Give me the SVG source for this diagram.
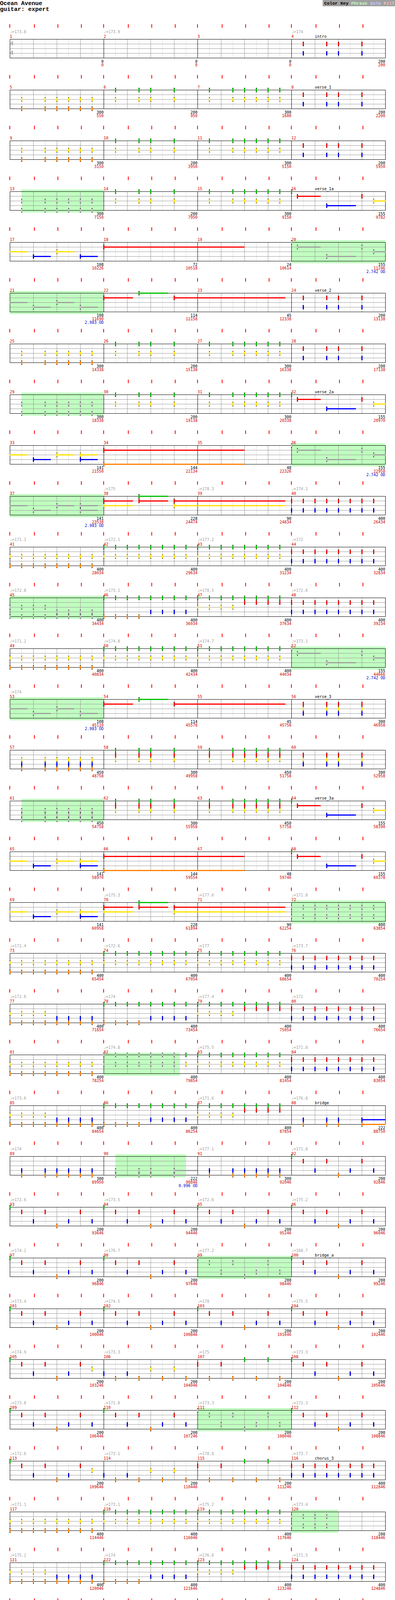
<svg xmlns="http://www.w3.org/2000/svg" width="1010" height="4795" viewBox="0 0 1010 4795">
<style>
.k{fill:#000}.cg{fill:#00c000}.cr{fill:#ff0000}.cy{fill:#ffe000}.cb{fill:#0000ff}.co{fill:#ff8000}.cs{fill:#a0a0a0}.cl{fill:#e8e8e8}.sp{fill:#c0ffc0}.tk{fill:#ff0000}
.t{font-family:"DejaVu Sans Mono","Liberation Mono",monospace;font-size:10px}
.tp{fill:#a0a0a0}.mn{fill:#cc0000}.lb{fill:#000}.sc{text-anchor:end;fill:#000}.cu{text-anchor:end;fill:#cc0000}.od{text-anchor:end;fill:#0000cc}
.ts{font-family:"DejaVu Sans Mono",monospace;font-weight:bold;font-size:14px;fill:#a0a0a0}
.hd{font-family:"Liberation Mono",monospace;font-size:15px;font-weight:bold;fill:#000}
.ck{font-family:"Liberation Mono",monospace;font-size:11.5px;font-weight:bold}
.ft{font-family:"Liberation Mono",monospace;font-size:11.6px;fill:#000}.wr{fill:#ff0000;font-weight:bold}.gr{fill:#808080}
.gl{stroke:#dddddd;stroke-width:1;fill:none}.gm{stroke:#999999;stroke-width:1;fill:none}.gk{stroke:#000;stroke-width:1;fill:none}
</style>
<defs>
<g id="grid4">
<path class="gl" d="M55.5 0V48M115.5 0V48M175.5 0V48M235.5 0V48M295.5 0V48M355.5 0V48M415.5 0V48M475.5 0V48M535.5 0V48M595.5 0V48M655.5 0V48M715.5 0V48M775.5 0V48M835.5 0V48M895.5 0V48M955.5 0V48"/>
<path class="gm" d="M25 12.5H985M25 24.5H985M25 36.5H985M85.5 0V48M145.5 0V48M205.5 0V48M325.5 0V48M385.5 0V48M445.5 0V48M565.5 0V48M625.5 0V48M685.5 0V48M805.5 0V48M865.5 0V48M925.5 0V48"/>
<path class="gk" d="M25 0.5H986M25 48.5H986M25.5 0V49M265.5 0V49M505.5 0V49M745.5 0V49M985.5 0V49"/>
</g>
<g id="grid3">
<path class="gl" d="M55.5 0V48M115.5 0V48M175.5 0V48M235.5 0V48M295.5 0V48M355.5 0V48M415.5 0V48M475.5 0V48M535.5 0V48M595.5 0V48M655.5 0V48M715.5 0V48"/>
<path class="gm" d="M25 12.5H745M25 24.5H745M25 36.5H745M85.5 0V48M145.5 0V48M205.5 0V48M325.5 0V48M385.5 0V48M445.5 0V48M565.5 0V48M625.5 0V48M685.5 0V48"/>
<path class="gk" d="M25 0.5H746M25 48.5H746M25.5 0V49M265.5 0V49M505.5 0V49M745.5 0V49"/>
</g>
<g id="ticks3" class="tk">
<rect x="24" y="-38" width="2" height="9"/><rect x="87" y="-38" width="2" height="9"/><rect x="147" y="-38" width="2" height="9"/><rect x="207" y="-38" width="2" height="9"/>
<rect x="264" y="-38" width="2" height="9"/><rect x="327" y="-38" width="2" height="9"/><rect x="387" y="-38" width="2" height="9"/><rect x="447" y="-38" width="2" height="9"/>
<rect x="504" y="-38" width="2" height="9"/><rect x="567" y="-38" width="2" height="9"/><rect x="627" y="-38" width="2" height="9"/><rect x="687" y="-38" width="2" height="9"/>
</g>
<g id="ticks4"><use href="#ticks3"/><g class="tk"><rect x="744" y="-38" width="2" height="9"/><rect x="807" y="-38" width="2" height="9"/><rect x="867" y="-38" width="2" height="9"/><rect x="927" y="-38" width="2" height="9"/></g></g>

<g id="G"><rect class="k" x="-1" y="-5" width="3" height="11"/><rect class="cg" x="-1" y="-4" width="3" height="9"/></g>
<g id="R"><rect class="k" x="-1" y="7" width="3" height="11"/><rect class="cr" x="-1" y="8" width="3" height="9"/></g>
<g id="Y"><rect class="k" x="-1" y="19" width="3" height="11"/><rect class="cy" x="-1" y="20" width="3" height="9"/></g>
<g id="B"><rect class="k" x="-1" y="31" width="3" height="11"/><rect class="cb" x="-1" y="32" width="3" height="9"/></g>
<g id="O"><rect class="k" x="-1" y="43" width="3" height="11"/><rect class="co" x="-1" y="44" width="3" height="9"/></g>
<g id="sG"><rect class="k" x="-1" y="-5" width="3" height="11"/><rect class="cs" x="-1" y="-4" width="3" height="9"/><rect class="cl" x="0" y="-3" width="1" height="7"/></g>
<g id="sR"><rect class="k" x="-1" y="7" width="3" height="11"/><rect class="cs" x="-1" y="8" width="3" height="9"/><rect class="cl" x="0" y="9" width="1" height="7"/></g>
<g id="sY"><rect class="k" x="-1" y="19" width="3" height="11"/><rect class="cs" x="-1" y="20" width="3" height="9"/><rect class="cl" x="0" y="21" width="1" height="7"/></g>
<g id="sB"><rect class="k" x="-1" y="31" width="3" height="11"/><rect class="cs" x="-1" y="32" width="3" height="9"/><rect class="cl" x="0" y="33" width="1" height="7"/></g>
<g id="sO"><rect class="k" x="-1" y="43" width="3" height="11"/><rect class="cs" x="-1" y="44" width="3" height="9"/><rect class="cl" x="0" y="45" width="1" height="7"/></g>

<g id="GY"><use href="#G"/><use href="#Y"/></g>
<g id="RB"><use href="#R"/><use href="#B"/></g>
<g id="YO"><use href="#Y"/><use href="#O"/></g>
<g id="BO"><use href="#B"/><use href="#O"/></g>
<g id="GO"><use href="#G"/><use href="#O"/></g>
<g id="GB"><use href="#G"/><use href="#B"/></g>
<g id="GR"><use href="#G"/><use href="#R"/></g>
<g id="RY"><use href="#R"/><use href="#Y"/></g>
<g id="YB"><use href="#Y"/><use href="#B"/></g>
<g id="GRY"><use href="#G"/><use href="#R"/><use href="#Y"/></g>
<g id="RYB"><use href="#R"/><use href="#Y"/><use href="#B"/></g>
<g id="YBO"><use href="#Y"/><use href="#B"/><use href="#O"/></g>
<g id="sGY"><use href="#sG"/><use href="#sY"/></g>
<g id="sRB"><use href="#sR"/><use href="#sB"/></g>
<g id="sYO"><use href="#sY"/><use href="#sO"/></g>
<g id="sBO"><use href="#sB"/><use href="#sO"/></g>
<g id="sYB"><use href="#sY"/><use href="#sB"/></g>
<g id="sYBO"><use href="#sY"/><use href="#sB"/><use href="#sO"/></g>

<g id="pA"><use href="#YO" x="30"/><use href="#YO" x="90"/><use href="#YO" x="120"/><use href="#YO" x="150"/><use href="#YO" x="180"/><use href="#YO" x="210"/></g>
<g id="pAs"><use href="#sYO" x="30"/><use href="#sYO" x="90"/><use href="#sYO" x="120"/><use href="#sYO" x="150"/><use href="#sYO" x="180"/><use href="#sYO" x="210"/></g>
<g id="pB"><use href="#GY" x="30"/><use href="#GY" x="90"/><use href="#GY" x="120"/><use href="#GY" x="180"/></g>
<g id="pC"><use href="#GY" x="30"/><use href="#GY" x="90"/><use href="#GY" x="120"/><use href="#GY" x="150"/><use href="#GY" x="180"/><use href="#GY" x="210"/></g>
<g id="pD"><use href="#RB" x="30"/><use href="#RB" x="90"/><use href="#RB" x="120"/><use href="#RB" x="180"/></g>
<g id="pH"><use href="#RB" x="0"/><use href="#RB" x="30"/><use href="#RB" x="60"/><use href="#RB" x="90"/><use href="#RB" x="120"/><use href="#RB" x="150"/><use href="#RB" x="180"/><use href="#RB" x="210"/></g>
<g id="pHs"><use href="#sRB" x="0"/><use href="#sRB" x="30"/><use href="#sRB" x="60"/><use href="#sRB" x="90"/><use href="#sRB" x="120"/><use href="#sRB" x="150"/><use href="#sRB" x="180"/><use href="#sRB" x="210"/></g>
<g id="pI"><use href="#YO" x="0"/><use href="#YO" x="30"/><use href="#YO" x="60"/><use href="#YO" x="90"/><use href="#YO" x="120"/><use href="#YO" x="150"/><use href="#YO" x="180"/><use href="#YO" x="210"/></g>
<g id="pJ"><use href="#GY" x="0"/><use href="#GY" x="30"/><use href="#GY" x="60"/><use href="#GY" x="90"/><use href="#GY" x="120"/><use href="#GY" x="150"/><use href="#GY" x="180"/><use href="#GY" x="210"/></g>
<g id="pK"><use href="#YO" x="0"/><use href="#YO" x="30"/><use href="#YO" x="60"/><use href="#YO" x="90"/><use href="#BO" x="120"/><use href="#BO" x="150"/><use href="#BO" x="180"/><use href="#BO" x="210"/></g>
<g id="pKs"><use href="#sYO" x="0"/><use href="#sYO" x="30"/><use href="#sYO" x="60"/><use href="#sYO" x="90"/><use href="#sBO" x="120"/><use href="#sBO" x="150"/><use href="#sBO" x="180"/><use href="#sBO" x="210"/></g>
<g id="pL"><use href="#GO" x="0"/><use href="#GO" x="30"/><use href="#GO" x="60"/><use href="#GO" x="90"/><use href="#GB" x="120"/><use href="#GB" x="150"/><use href="#GB" x="180"/><use href="#GB" x="210"/></g>
<g id="pM"><use href="#GY" x="0"/><use href="#GY" x="30"/><use href="#GY" x="60"/><use href="#GY" x="90"/><use href="#GR" x="120"/><use href="#GR" x="150"/><use href="#GR" x="180"/><use href="#GR" x="210"/></g>
<g id="pV3"><use href="#RYB" x="30"/><use href="#RYB" x="90"/><use href="#RYB" x="120"/><use href="#RYB" x="180"/></g>
<g id="pV4"><use href="#YBO" x="30"/><use href="#YBO" x="90"/><use href="#YBO" x="120"/><use href="#YBO" x="150"/><use href="#YBO" x="180"/><use href="#YBO" x="210"/></g>
<g id="pV4s"><use href="#sYBO" x="30"/><use href="#sYBO" x="90"/><use href="#sYBO" x="120"/><use href="#sYBO" x="150"/><use href="#sYBO" x="180"/><use href="#sYBO" x="210"/></g>
<g id="pV5"><use href="#GRY" x="30"/><use href="#GRY" x="90"/><use href="#GRY" x="120"/><use href="#GRY" x="180"/></g>
<g id="pV6"><use href="#GRY" x="30"/><use href="#GRY" x="90"/><use href="#GRY" x="120"/><use href="#GRY" x="150"/><use href="#GRY" x="180"/><use href="#GRY" x="210"/></g>
<g id="pBr6"><use href="#BO" x="30"/><use href="#BO" x="90"/><use href="#BO" x="120"/><use href="#BO" x="150"/><use href="#BO" x="180"/><use href="#BO" x="210"/></g>
<g id="pBr"><use href="#BO" x="30"/><use href="#BO" x="90"/><use href="#BO" x="120"/><rect class="cb" x="180" y="35" width="61" height="3"/><rect class="co" x="180" y="47" width="61" height="3"/><use href="#BO" x="180"/></g>
<g id="pBrs"><use href="#sBO" x="30"/><use href="#sBO" x="90"/><use href="#sBO" x="120"/><rect class="cs" x="180" y="35" width="60" height="3"/><rect class="cs" x="180" y="47" width="60" height="3"/><use href="#sBO" x="180"/></g>
<g id="pOut"><use href="#RB" x="30"/><use href="#RB" x="90"/><use href="#RB" x="120"/><rect class="cr" x="180" y="11" width="61" height="3"/><rect class="cb" x="180" y="35" width="61" height="3"/><use href="#RB" x="180"/></g>
<g id="pGY4"><use href="#GY" x="30"/><use href="#GY" x="90"/><use href="#GY" x="120"/><rect class="cg" x="180" y="-1" width="60" height="3"/><rect class="cy" x="180" y="23" width="60" height="3"/><use href="#GY" x="180"/></g>
<g id="pP"><use href="#G" x="0"/><use href="#R" x="30"/><use href="#B" x="60"/><use href="#R" x="90"/><use href="#O" x="120"/><use href="#B" x="150"/><use href="#R" x="180"/><use href="#B" x="210"/></g>
<g id="pPs"><use href="#sG" x="0"/><use href="#sR" x="30"/><use href="#sB" x="60"/><use href="#sR" x="90"/><use href="#sO" x="120"/><use href="#sB" x="150"/><use href="#sR" x="180"/><use href="#sB" x="210"/></g>
<g id="pQ"><use href="#G" x="0"/><use href="#R" x="30"/><use href="#B" x="60"/><use href="#R" x="90"/><use href="#O" x="120"/><use href="#B" x="150"/><use href="#R" x="180"/><use href="#Y" x="210"/></g>
<g id="pS"><use href="#B" x="0"/><use href="#O" x="30"/><use href="#B" x="60"/><use href="#O" x="90"/><use href="#Y" x="120"/><use href="#O" x="150"/><use href="#Y" x="180"/><use href="#O" x="210"/></g>
<g id="pT"><use href="#R" x="0"/><use href="#O" x="30"/><use href="#R" x="60"/><use href="#O" x="90"/><use href="#G" x="120"/><use href="#O" x="150"/><use href="#G" x="180"/><use href="#O" x="210"/></g>
<g id="pE"><use href="#G"/><rect class="cr" x="15" y="11" width="60" height="3"/><use href="#R" x="15"/><rect class="cb" x="90" y="35" width="75" height="3"/><use href="#B" x="90"/><use href="#R" x="180"/><rect class="cy" x="210" y="23" width="31" height="3"/><use href="#Y" x="210"/></g>
<g id="pEs"><use href="#sG"/><rect class="cs" x="15" y="11" width="60" height="3"/><use href="#sR" x="15"/><rect class="cs" x="90" y="35" width="75" height="3"/><use href="#sB" x="90"/><use href="#sR" x="180"/><rect class="cs" x="210" y="23" width="31" height="3"/><use href="#sY" x="210"/></g>
<g id="pF"><rect class="cy" x="0" y="23" width="45" height="3"/><rect class="cb" x="60" y="35" width="45" height="3"/><use href="#B" x="60"/><rect class="cy" x="120" y="23" width="45" height="3"/><use href="#Y" x="120"/><rect class="cb" x="180" y="35" width="45" height="3"/><use href="#B" x="180"/></g>
<g id="pFs"><rect class="cs" x="0" y="23" width="45" height="3"/><rect class="cs" x="60" y="35" width="45" height="3"/><use href="#sB" x="60"/><rect class="cs" x="120" y="23" width="45" height="3"/><use href="#sY" x="120"/><rect class="cs" x="180" y="35" width="45" height="3"/><use href="#sB" x="180"/></g>
<g id="pF2"><rect class="cy" x="0" y="23" width="45" height="3"/><rect class="cb" x="60" y="35" width="45" height="3"/><use href="#B" x="60"/><rect class="cy" x="120" y="23" width="45" height="3"/><use href="#Y" x="120"/><rect class="cy" x="180" y="23" width="45" height="3"/><rect class="cb" x="180" y="35" width="45" height="3"/><use href="#YB" x="180"/></g>
<g id="pF2s"><rect class="cs" x="0" y="23" width="45" height="3"/><rect class="cs" x="60" y="35" width="45" height="3"/><use href="#sB" x="60"/><rect class="cs" x="120" y="23" width="45" height="3"/><use href="#sY" x="120"/><rect class="cs" x="180" y="23" width="45" height="3"/><rect class="cs" x="180" y="35" width="45" height="3"/><use href="#sYB" x="180"/></g>
<g id="pX18"><rect class="cr" x="0" y="11" width="360" height="3"/><use href="#R"/></g>
<g id="pX22"><rect class="cr" x="0" y="11" width="75" height="3"/><use href="#R"/><rect class="cg" x="90" y="-1" width="75" height="3"/><use href="#G" x="90"/><rect class="cr" x="180" y="11" width="285" height="3"/><use href="#R" x="180"/></g>
<g id="pX34"><rect class="cr" x="0" y="11" width="360" height="3"/><rect class="co" x="0" y="47" width="360" height="3"/><use href="#R"/><use href="#O"/></g>
<g id="pX38"><rect class="cr" x="0" y="11" width="75" height="3"/><rect class="cy" x="0" y="23" width="75" height="3"/><use href="#RY"/><rect class="cg" x="90" y="-1" width="75" height="3"/><rect class="cr" x="90" y="11" width="75" height="3"/><use href="#GR" x="90"/><rect class="cr" x="180" y="11" width="285" height="3"/><rect class="cy" x="180" y="23" width="285" height="3"/><use href="#RY" x="180"/></g>
<g id="p82"><use href="#sGY" x="0"/><use href="#sGY" x="30"/><use href="#sGY" x="60"/><use href="#sGY" x="90"/><use href="#sGY" x="120"/><use href="#sGY" x="150"/><use href="#sGY" x="180"/><use href="#GY" x="210"/></g>
<g id="p120"><use href="#sRB" x="0"/><use href="#sRB" x="30"/><use href="#sRB" x="60"/><use href="#sRB" x="90"/></g>
</defs>

<rect width="1010" height="4795" fill="#fff"/>
<g id="header">
<text class="hd" x="0" y="13">Ocean Avenue</text>
<text class="hd" x="0" y="28">guitar: expert</text>
</g>
<g id="colorkey">
<rect x="825" y="0" width="185" height="16" fill="#a0a0a0"/>
<text class="ck" x="829" y="12"><tspan fill="#000">Color Key</tspan> <tspan fill="#c0ffc0">Phrase</tspan> <tspan fill="#c8c8ff">Solo</tspan> <tspan fill="#ffc0c0">Fill</tspan></text>
</g>

<g id="row1" transform="translate(0,100)">
<use href="#grid4"/><use href="#ticks4"/>
<text class="ts" x="26" y="16">4</text><text class="ts" x="26" y="40">4</text>
<g id="m1"><text class="t tp" x="25" y="-15">♩=173.8</text><text class="t mn" x="25" y="-3">1</text><text class="t sc" x="265" y="61">0</text><text class="t cu" x="265" y="70">0</text></g>
<g id="m2"><text class="t tp" x="265" y="-15">♩=173.9</text><text class="t mn" x="265" y="-3">2</text><text class="t sc" x="505" y="61">0</text><text class="t cu" x="505" y="70">0</text></g>
<g id="m3"><text class="t mn" x="505" y="-3">3</text><text class="t sc" x="745" y="61">0</text><text class="t cu" x="745" y="70">0</text></g>
<g id="m4"><text class="t tp" x="745" y="-15">♩=174</text><text class="t mn" x="745" y="-3">4</text><text class="t lb" x="805" y="-3">intro</text><text class="t sc" x="985" y="61">200</text><text class="t cu" x="985" y="70">200</text><use href="#pD" x="745"/></g>
</g>

<g id="row2" transform="translate(0,230)">
<use href="#grid4"/><use href="#ticks4"/>
<g id="m5"><text class="t mn" x="25" y="-3">5</text><text class="t sc" x="265" y="61">300</text><text class="t cu" x="265" y="70">550</text><use href="#pA" x="25"/></g>
<g id="m6"><text class="t mn" x="265" y="-3">6</text><text class="t sc" x="505" y="61">200</text><text class="t cu" x="505" y="70">950</text><use href="#pB" x="265"/></g>
<g id="m7"><text class="t mn" x="505" y="-3">7</text><text class="t sc" x="745" y="61">300</text><text class="t cu" x="745" y="70">1600</text><use href="#pC" x="505"/></g>
<g id="m8"><text class="t mn" x="745" y="-3">8</text><text class="t lb" x="805" y="-3">verse_1</text><text class="t sc" x="985" y="61">200</text><text class="t cu" x="985" y="70">2200</text><use href="#pD" x="745"/></g>
</g>

<g id="row3" transform="translate(0,360)">
<use href="#grid4"/><use href="#ticks4"/>
<g id="m9"><text class="t mn" x="25" y="-3">9</text><text class="t sc" x="265" y="61">300</text><text class="t cu" x="265" y="70">3150</text><use href="#pA" x="25"/></g>
<g id="m10"><text class="t mn" x="265" y="-3">10</text><text class="t sc" x="505" y="61">200</text><text class="t cu" x="505" y="70">3950</text><use href="#pB" x="265"/></g>
<g id="m11"><text class="t mn" x="505" y="-3">11</text><text class="t sc" x="745" y="61">300</text><text class="t cu" x="745" y="70">5150</text><use href="#pC" x="505"/></g>
<g id="m12"><text class="t mn" x="745" y="-3">12</text><text class="t sc" x="985" y="61">200</text><text class="t cu" x="985" y="70">5950</text><use href="#pD" x="745"/></g>
</g>

<g id="row4" transform="translate(0,490)">
<rect class="sp" x="55" y="-5" width="210" height="59"/>
<use href="#grid4"/><use href="#ticks4"/>
<g id="m13"><text class="t mn" x="25" y="-3">13</text><text class="t sc" x="265" y="61">300</text><text class="t cu" x="265" y="70">7150</text><use href="#pAs" x="25"/></g>
<g id="m14"><text class="t mn" x="265" y="-3">14</text><text class="t sc" x="505" y="61">200</text><text class="t cu" x="505" y="70">7950</text><use href="#pB" x="265"/></g>
<g id="m15"><text class="t mn" x="505" y="-3">15</text><text class="t sc" x="745" y="61">300</text><text class="t cu" x="745" y="70">9150</text><use href="#pC" x="505"/></g>
<g id="m16"><text class="t mn" x="745" y="-3">16</text><text class="t lb" x="805" y="-3">verse_1a</text><text class="t sc" x="985" y="61">155</text><text class="t cu" x="985" y="70">9782</text><use href="#pE" x="745"/></g>
</g>

<g id="row5" transform="translate(0,620)">
<rect class="sp" x="745" y="-5" width="240" height="59"/>
<use href="#grid4"/><use href="#ticks4"/>
<g id="m17"><text class="t mn" x="25" y="-3">17</text><text class="t sc" x="265" y="61">108</text><text class="t cu" x="265" y="70">10226</text><use href="#pF" x="25"/></g>
<g id="m18"><text class="t mn" x="265" y="-3">18</text><text class="t sc" x="505" y="61">72</text><text class="t cu" x="505" y="70">10518</text><use href="#pX18" x="265"/></g>
<g id="m19"><text class="t mn" x="505" y="-3">19</text><text class="t sc" x="745" y="61">24</text><text class="t cu" x="745" y="70">10614</text></g>
<g id="m20"><text class="t mn" x="745" y="-3">20</text><text class="t sc" x="985" y="61">155</text><text class="t cu" x="985" y="70">11246</text><text class="t od" x="985" y="79">2.742 OD</text><use href="#pEs" x="745"/></g>
</g>

<g id="row6" transform="translate(0,750)">
<rect class="sp" x="25" y="-5" width="240" height="59"/>
<use href="#grid4"/><use href="#ticks4"/>
<g id="m21"><text class="t mn" x="25" y="-3">21</text><text class="t sc" x="265" y="61">108</text><text class="t cu" x="265" y="70">11690</text><text class="t od" x="265" y="79">2.983 OD</text><use href="#pFs" x="25"/></g>
<g id="m22"><text class="t mn" x="265" y="-3">22</text><text class="t sc" x="505" y="61">114</text><text class="t cu" x="505" y="70">12158</text><use href="#pX22" x="265"/></g>
<g id="m23"><text class="t mn" x="505" y="-3">23</text><text class="t sc" x="745" y="61">45</text><text class="t cu" x="745" y="70">12338</text></g>
<g id="m24"><text class="t mn" x="745" y="-3">24</text><text class="t lb" x="805" y="-3">verse_2</text><text class="t sc" x="985" y="61">200</text><text class="t cu" x="985" y="70">13138</text><use href="#pD" x="745"/></g>
</g>

<g id="row7" transform="translate(0,880)">
<use href="#grid4"/><use href="#ticks4"/>
<g id="m25"><text class="t mn" x="25" y="-3">25</text><text class="t sc" x="265" y="61">300</text><text class="t cu" x="265" y="70">14338</text><use href="#pA" x="25"/></g>
<g id="m26"><text class="t mn" x="265" y="-3">26</text><text class="t sc" x="505" y="61">200</text><text class="t cu" x="505" y="70">15138</text><use href="#pB" x="265"/></g>
<g id="m27"><text class="t mn" x="505" y="-3">27</text><text class="t sc" x="745" y="61">300</text><text class="t cu" x="745" y="70">16338</text><use href="#pC" x="505"/></g>
<g id="m28"><text class="t mn" x="745" y="-3">28</text><text class="t sc" x="985" y="61">200</text><text class="t cu" x="985" y="70">17138</text><use href="#pD" x="745"/></g>
</g>

<g id="row8" transform="translate(0,1010)">
<rect class="sp" x="55" y="-5" width="210" height="59"/>
<use href="#grid4"/><use href="#ticks4"/>
<g id="m29"><text class="t mn" x="25" y="-3">29</text><text class="t sc" x="265" y="61">300</text><text class="t cu" x="265" y="70">18338</text><use href="#pAs" x="25"/></g>
<g id="m30"><text class="t mn" x="265" y="-3">30</text><text class="t sc" x="505" y="61">200</text><text class="t cu" x="505" y="70">19138</text><use href="#pB" x="265"/></g>
<g id="m31"><text class="t mn" x="505" y="-3">31</text><text class="t sc" x="745" y="61">300</text><text class="t cu" x="745" y="70">20338</text><use href="#pC" x="505"/></g>
<g id="m32"><text class="t mn" x="745" y="-3">32</text><text class="t lb" x="805" y="-3">verse_2a</text><text class="t sc" x="985" y="61">155</text><text class="t cu" x="985" y="70">20970</text><use href="#pE" x="745"/></g>
</g>

<g id="row9" transform="translate(0,1140)">
<rect class="sp" x="745" y="-5" width="240" height="59"/>
<use href="#grid4"/><use href="#ticks4"/>
<g id="m33"><text class="t mn" x="25" y="-3">33</text><text class="t sc" x="265" y="61">141</text><text class="t cu" x="265" y="70">21550</text><use href="#pF2" x="25"/></g>
<g id="m34"><text class="t mn" x="265" y="-3">34</text><text class="t sc" x="505" y="61">144</text><text class="t cu" x="505" y="70">22134</text><use href="#pX34" x="265"/></g>
<g id="m35"><text class="t mn" x="505" y="-3">35</text><text class="t sc" x="745" y="61">48</text><text class="t cu" x="745" y="70">22326</text></g>
<g id="m36"><text class="t mn" x="745" y="-3">36</text><text class="t sc" x="985" y="61">155</text><text class="t cu" x="985" y="70">22958</text><text class="t od" x="985" y="79">2.742 OD</text><use href="#pEs" x="745"/></g>
</g>

<g id="row10" transform="translate(0,1270)">
<rect class="sp" x="25" y="-5" width="240" height="59"/>
<use href="#grid4"/><use href="#ticks4"/>
<g id="m37"><text class="t mn" x="25" y="-3">37</text><text class="t sc" x="265" y="61">141</text><text class="t cu" x="265" y="70">23538</text><text class="t od" x="265" y="79">2.983 OD</text><use href="#pF2s" x="25"/></g>
<g id="m38"><text class="t tp" x="265" y="-15">♩=175</text><text class="t mn" x="265" y="-3">38</text><text class="t sc" x="505" y="61">228</text><text class="t cu" x="505" y="70">24474</text><use href="#pX38" x="265"/></g>
<g id="m39"><text class="t tp" x="505" y="-15">♩=178.3</text><text class="t mn" x="505" y="-3">39</text><text class="t sc" x="745" y="61">90</text><text class="t cu" x="745" y="70">24834</text></g>
<g id="m40"><text class="t tp" x="745" y="-15">♩=174.1</text><text class="t mn" x="745" y="-3">40</text><text class="t sc" x="985" y="61">400</text><text class="t cu" x="985" y="70">26434</text><use href="#pH" x="745"/></g>
</g>

<g id="row11" transform="translate(0,1400)">
<use href="#grid4"/><use href="#ticks4"/>
<g id="m41"><text class="t tp" x="25" y="-15">♩=171.1</text><text class="t mn" x="25" y="-3">41</text><text class="t sc" x="265" y="61">400</text><text class="t cu" x="265" y="70">28034</text><use href="#pI" x="25"/></g>
<g id="m42"><text class="t tp" x="265" y="-15">♩=172.1</text><text class="t mn" x="265" y="-3">42</text><text class="t sc" x="505" y="61">400</text><text class="t cu" x="505" y="70">29634</text><use href="#pJ" x="265"/></g>
<g id="m43"><text class="t tp" x="505" y="-15">♩=177.2</text><text class="t mn" x="505" y="-3">43</text><text class="t sc" x="745" y="61">400</text><text class="t cu" x="745" y="70">31234</text><use href="#pJ" x="505"/></g>
<g id="m44"><text class="t tp" x="745" y="-15">♩=172</text><text class="t mn" x="745" y="-3">44</text><text class="t sc" x="985" y="61">400</text><text class="t cu" x="985" y="70">32834</text><use href="#pH" x="745"/></g>
</g>

<g id="row12" transform="translate(0,1530)">
<rect class="sp" x="25" y="-5" width="240" height="59"/>
<use href="#grid4"/><use href="#ticks4"/>
<g id="m45"><text class="t tp" x="25" y="-15">♩=172.8</text><text class="t mn" x="25" y="-3">45</text><text class="t sc" x="265" y="61">400</text><text class="t cu" x="265" y="70">34434</text><use href="#pKs" x="25"/></g>
<g id="m46"><text class="t tp" x="265" y="-15">♩=173.1</text><text class="t mn" x="265" y="-3">46</text><text class="t sc" x="505" y="61">400</text><text class="t cu" x="505" y="70">36034</text><use href="#pL" x="265"/></g>
<g id="m47"><text class="t tp" x="505" y="-15">♩=178.5</text><text class="t mn" x="505" y="-3">47</text><text class="t sc" x="745" y="61">400</text><text class="t cu" x="745" y="70">37634</text><use href="#pM" x="505"/></g>
<g id="m48"><text class="t tp" x="745" y="-15">♩=172.6</text><text class="t mn" x="745" y="-3">48</text><text class="t sc" x="985" y="61">400</text><text class="t cu" x="985" y="70">39234</text><use href="#pH" x="745"/></g>
</g>

<g id="row13" transform="translate(0,1660)">
<rect class="sp" x="745" y="-5" width="240" height="59"/>
<use href="#grid4"/><use href="#ticks4"/>
<g id="m49"><text class="t tp" x="25" y="-15">♩=171.2</text><text class="t mn" x="25" y="-3">49</text><text class="t sc" x="265" y="61">400</text><text class="t cu" x="265" y="70">40834</text><use href="#pI" x="25"/></g>
<g id="m50"><text class="t tp" x="265" y="-15">♩=174.8</text><text class="t mn" x="265" y="-3">50</text><text class="t sc" x="505" y="61">400</text><text class="t cu" x="505" y="70">42434</text><use href="#pJ" x="265"/></g>
<g id="m51"><text class="t tp" x="505" y="-15">♩=174.7</text><text class="t mn" x="505" y="-3">51</text><text class="t sc" x="745" y="61">400</text><text class="t cu" x="745" y="70">44034</text><use href="#pJ" x="505"/></g>
<g id="m52"><text class="t tp" x="745" y="-15">♩=173.1</text><text class="t mn" x="745" y="-3">52</text><text class="t sc" x="985" y="61">155</text><text class="t cu" x="985" y="70">44666</text><text class="t od" x="985" y="79">2.742 OD</text><use href="#pEs" x="745"/></g>
</g>

<g id="row14" transform="translate(0,1790)">
<rect class="sp" x="25" y="-5" width="240" height="59"/>
<use href="#grid4"/><use href="#ticks4"/>
<g id="m53"><text class="t tp" x="25" y="-15">♩=174</text><text class="t mn" x="25" y="-3">53</text><text class="t sc" x="265" y="61">108</text><text class="t cu" x="265" y="70">45110</text><text class="t od" x="265" y="79">2.983 OD</text><use href="#pFs" x="25"/></g>
<g id="m54"><text class="t mn" x="265" y="-3">54</text><text class="t sc" x="505" y="61">114</text><text class="t cu" x="505" y="70">45578</text><use href="#pX22" x="265"/></g>
<g id="m55"><text class="t mn" x="505" y="-3">55</text><text class="t sc" x="745" y="61">45</text><text class="t cu" x="745" y="70">45758</text></g>
<g id="m56"><text class="t mn" x="745" y="-3">56</text><text class="t lb" x="805" y="-3">verse_3</text><text class="t sc" x="985" y="61">300</text><text class="t cu" x="985" y="70">46958</text><use href="#pV3" x="745"/></g>
</g>

<g id="row15" transform="translate(0,1920)">
<use href="#grid4"/><use href="#ticks4"/>
<g id="m57"><text class="t mn" x="25" y="-3">57</text><text class="t sc" x="265" y="61">450</text><text class="t cu" x="265" y="70">48758</text><use href="#pV4" x="25"/></g>
<g id="m58"><text class="t mn" x="265" y="-3">58</text><text class="t sc" x="505" y="61">300</text><text class="t cu" x="505" y="70">49958</text><use href="#pV5" x="265"/></g>
<g id="m59"><text class="t mn" x="505" y="-3">59</text><text class="t sc" x="745" y="61">450</text><text class="t cu" x="745" y="70">51758</text><use href="#pV6" x="505"/></g>
<g id="m60"><text class="t mn" x="745" y="-3">60</text><text class="t sc" x="985" y="61">300</text><text class="t cu" x="985" y="70">52958</text><use href="#pV3" x="745"/></g>
</g>

<g id="row16" transform="translate(0,2050)">
<rect class="sp" x="55" y="-5" width="210" height="59"/>
<use href="#grid4"/><use href="#ticks4"/>
<g id="m61"><text class="t mn" x="25" y="-3">61</text><text class="t sc" x="265" y="61">450</text><text class="t cu" x="265" y="70">54758</text><use href="#pV4s" x="25"/></g>
<g id="m62"><text class="t mn" x="265" y="-3">62</text><text class="t sc" x="505" y="61">300</text><text class="t cu" x="505" y="70">55958</text><use href="#pV5" x="265"/></g>
<g id="m63"><text class="t mn" x="505" y="-3">63</text><text class="t sc" x="745" y="61">450</text><text class="t cu" x="745" y="70">57758</text><use href="#pV6" x="505"/></g>
<g id="m64"><text class="t mn" x="745" y="-3">64</text><text class="t lb" x="805" y="-3">verse_3a</text><text class="t sc" x="985" y="61">155</text><text class="t cu" x="985" y="70">58390</text><use href="#pE" x="745"/></g>
</g>

<g id="row17" transform="translate(0,2180)">
<use href="#grid4"/><use href="#ticks4"/>
<g id="m65"><text class="t mn" x="25" y="-3">65</text><text class="t sc" x="265" y="61">141</text><text class="t cu" x="265" y="70">58970</text><use href="#pF2" x="25"/></g>
<g id="m66"><text class="t mn" x="265" y="-3">66</text><text class="t sc" x="505" y="61">144</text><text class="t cu" x="505" y="70">59554</text><use href="#pX34" x="265"/></g>
<g id="m67"><text class="t mn" x="505" y="-3">67</text><text class="t sc" x="745" y="61">48</text><text class="t cu" x="745" y="70">59746</text></g>
<g id="m68"><text class="t mn" x="745" y="-3">68</text><text class="t sc" x="985" y="61">155</text><text class="t cu" x="985" y="70">60378</text><use href="#pE" x="745"/></g>
</g>

<g id="row18" transform="translate(0,2310)">
<rect class="sp" x="745" y="-5" width="240" height="59"/>
<use href="#grid4"/><use href="#ticks4"/>
<g id="m69"><text class="t mn" x="25" y="-3">69</text><text class="t sc" x="265" y="61">141</text><text class="t cu" x="265" y="70">60958</text><use href="#pF2" x="25"/></g>
<g id="m70"><text class="t tp" x="265" y="-15">♩=175.3</text><text class="t mn" x="265" y="-3">70</text><text class="t sc" x="505" y="61">228</text><text class="t cu" x="505" y="70">61894</text><use href="#pX38" x="265"/></g>
<g id="m71"><text class="t tp" x="505" y="-15">♩=177.6</text><text class="t mn" x="505" y="-3">71</text><text class="t sc" x="745" y="61">90</text><text class="t cu" x="745" y="70">62254</text></g>
<g id="m72"><text class="t tp" x="745" y="-15">♩=171.8</text><text class="t mn" x="745" y="-3">72</text><text class="t sc" x="985" y="61">400</text><text class="t cu" x="985" y="70">63854</text><use href="#pHs" x="745"/></g>
</g>

<g id="row19" transform="translate(0,2440)">
<use href="#grid4"/><use href="#ticks4"/>
<g id="m73"><text class="t tp" x="25" y="-15">♩=172.4</text><text class="t mn" x="25" y="-3">73</text><text class="t sc" x="265" y="61">400</text><text class="t cu" x="265" y="70">65454</text><use href="#pI" x="25"/></g>
<g id="m74"><text class="t tp" x="265" y="-15">♩=172.6</text><text class="t mn" x="265" y="-3">74</text><text class="t sc" x="505" y="61">400</text><text class="t cu" x="505" y="70">67054</text><use href="#pJ" x="265"/></g>
<g id="m75"><text class="t tp" x="505" y="-15">♩=177</text><text class="t mn" x="505" y="-3">75</text><text class="t sc" x="745" y="61">400</text><text class="t cu" x="745" y="70">68654</text><use href="#pJ" x="505"/></g>
<g id="m76"><text class="t tp" x="745" y="-15">♩=173.7</text><text class="t mn" x="745" y="-3">76</text><text class="t sc" x="985" y="61">400</text><text class="t cu" x="985" y="70">70254</text><use href="#pH" x="745"/></g>
</g>

<g id="row20" transform="translate(0,2570)">
<use href="#grid4"/><use href="#ticks4"/>
<g id="m77"><text class="t tp" x="25" y="-15">♩=172.6</text><text class="t mn" x="25" y="-3">77</text><text class="t sc" x="265" y="61">400</text><text class="t cu" x="265" y="70">71854</text><use href="#pK" x="25"/></g>
<g id="m78"><text class="t tp" x="265" y="-15">♩=174</text><text class="t mn" x="265" y="-3">78</text><text class="t sc" x="505" y="61">400</text><text class="t cu" x="505" y="70">73454</text><use href="#pL" x="265"/></g>
<g id="m79"><text class="t tp" x="505" y="-15">♩=177.4</text><text class="t mn" x="505" y="-3">79</text><text class="t sc" x="745" y="61">400</text><text class="t cu" x="745" y="70">75054</text><use href="#pM" x="505"/></g>
<g id="m80"><text class="t tp" x="745" y="-15">♩=172</text><text class="t mn" x="745" y="-3">80</text><text class="t sc" x="985" y="61">400</text><text class="t cu" x="985" y="70">76654</text><use href="#pH" x="745"/></g>
</g>

<g id="row21" transform="translate(0,2700)">
<rect class="sp" x="265" y="-5" width="195" height="59"/>
<use href="#grid4"/><use href="#ticks4"/>
<g id="m81"><text class="t mn" x="25" y="-3">81</text><text class="t sc" x="265" y="61">400</text><text class="t cu" x="265" y="70">78254</text><use href="#pI" x="25"/></g>
<g id="m82"><text class="t tp" x="265" y="-15">♩=174.8</text><text class="t mn" x="265" y="-3">82</text><text class="t sc" x="505" y="61">400</text><text class="t cu" x="505" y="70">79854</text><use href="#p82" x="265"/></g>
<g id="m83"><text class="t tp" x="505" y="-15">♩=175.5</text><text class="t mn" x="505" y="-3">83</text><text class="t sc" x="745" y="61">400</text><text class="t cu" x="745" y="70">81454</text><use href="#pJ" x="505"/></g>
<g id="m84"><text class="t tp" x="745" y="-15">♩=171.8</text><text class="t mn" x="745" y="-3">84</text><text class="t sc" x="985" y="61">400</text><text class="t cu" x="985" y="70">83054</text><use href="#pH" x="745"/></g>
</g>

<g id="row22" transform="translate(0,2830)">
<use href="#grid4"/><use href="#ticks4"/>
<g id="m85"><text class="t tp" x="25" y="-15">♩=173.6</text><text class="t mn" x="25" y="-3">85</text><text class="t sc" x="265" y="61">400</text><text class="t cu" x="265" y="70">84654</text><use href="#pK" x="25"/></g>
<g id="m86"><text class="t mn" x="265" y="-3">86</text><text class="t sc" x="505" y="61">400</text><text class="t cu" x="505" y="70">86254</text><use href="#pL" x="265"/></g>
<g id="m87"><text class="t tp" x="505" y="-15">♩=171.6</text><text class="t mn" x="505" y="-3">87</text><text class="t sc" x="745" y="61">400</text><text class="t cu" x="745" y="70">87854</text><use href="#pM" x="505"/></g>
<g id="m88"><text class="t tp" x="745" y="-15">♩=176.8</text><text class="t mn" x="745" y="-3">88</text><text class="t lb" x="805" y="-3">bridge</text><text class="t sc" x="985" y="61">222</text><text class="t cu" x="985" y="70">88750</text><use href="#pBr" x="745"/></g>
</g>

<g id="row23" transform="translate(0,2960)">
<rect class="sp" x="295" y="-5" width="180" height="59"/>
<use href="#grid4"/><use href="#ticks4"/>
<g id="m89"><text class="t tp" x="25" y="-15">♩=174</text><text class="t mn" x="25" y="-3">89</text><text class="t sc" x="265" y="61">300</text><text class="t cu" x="265" y="70">89950</text><use href="#pBr6" x="25"/></g>
<g id="m90"><text class="t mn" x="265" y="-3">90</text><text class="t sc" x="505" y="61">222</text><text class="t cu" x="505" y="70">90846</text><text class="t od" x="505" y="79">0.996 OD</text><use href="#pBrs" x="265"/></g>
<g id="m91"><text class="t tp" x="505" y="-15">♩=177.1</text><text class="t mn" x="505" y="-3">91</text><text class="t sc" x="745" y="61">300</text><text class="t cu" x="745" y="70">92046</text><use href="#pBr6" x="505"/></g>
<g id="m92"><text class="t tp" x="745" y="-15">♩=171.8</text><text class="t mn" x="745" y="-3">92</text><text class="t sc" x="985" y="61">200</text><text class="t cu" x="985" y="70">92846</text><use href="#pP" x="745"/></g>
</g>

<g id="row24" transform="translate(0,3090)">
<use href="#grid4"/><use href="#ticks4"/>
<g id="m93"><text class="t tp" x="25" y="-15">♩=172.6</text><text class="t mn" x="25" y="-3">93</text><text class="t sc" x="265" y="61">200</text><text class="t cu" x="265" y="70">93646</text><use href="#pP" x="25"/></g>
<g id="m94"><text class="t tp" x="265" y="-15">♩=173.5</text><text class="t mn" x="265" y="-3">94</text><text class="t sc" x="505" y="61">200</text><text class="t cu" x="505" y="70">94446</text><use href="#pP" x="265"/></g>
<g id="m95"><text class="t tp" x="505" y="-15">♩=172.6</text><text class="t mn" x="505" y="-3">95</text><text class="t sc" x="745" y="61">200</text><text class="t cu" x="745" y="70">95246</text><use href="#pP" x="505"/></g>
<g id="m96"><text class="t tp" x="745" y="-15">♩=175.2</text><text class="t mn" x="745" y="-3">96</text><text class="t sc" x="985" y="61">200</text><text class="t cu" x="985" y="70">96046</text><use href="#pP" x="745"/></g>
</g>

<g id="row25" transform="translate(0,3220)">
<rect class="sp" x="505" y="-5" width="240" height="59"/>
<use href="#grid4"/><use href="#ticks4"/>
<g id="m97"><text class="t tp" x="25" y="-15">♩=174.2</text><text class="t mn" x="25" y="-3">97</text><text class="t sc" x="265" y="61">200</text><text class="t cu" x="265" y="70">96846</text><use href="#pP" x="25"/></g>
<g id="m98"><text class="t tp" x="265" y="-15">♩=176.7</text><text class="t mn" x="265" y="-3">98</text><text class="t sc" x="505" y="61">200</text><text class="t cu" x="505" y="70">97646</text><use href="#pP" x="265"/></g>
<g id="m99"><text class="t tp" x="505" y="-15">♩=177.2</text><text class="t mn" x="505" y="-3">99</text><text class="t sc" x="745" y="61">200</text><text class="t cu" x="745" y="70">98446</text><use href="#pPs" x="505"/></g>
<g id="m100"><text class="t tp" x="745" y="-15">♩=168.7</text><text class="t mn" x="745" y="-3">100</text><text class="t lb" x="805" y="-3">bridge_a</text><text class="t sc" x="985" y="61">200</text><text class="t cu" x="985" y="70">99246</text><use href="#pP" x="745"/></g>
</g>

<g id="row26" transform="translate(0,3350)">
<use href="#grid4"/><use href="#ticks4"/>
<g id="m101"><text class="t tp" x="25" y="-15">♩=173.4</text><text class="t mn" x="25" y="-3">101</text><text class="t sc" x="265" y="61">200</text><text class="t cu" x="265" y="70">100046</text><use href="#pP" x="25"/></g>
<g id="m102"><text class="t tp" x="265" y="-15">♩=174.5</text><text class="t mn" x="265" y="-3">102</text><text class="t sc" x="505" y="61">200</text><text class="t cu" x="505" y="70">100846</text><use href="#pP" x="265"/></g>
<g id="m103"><text class="t tp" x="505" y="-15">♩=178</text><text class="t mn" x="505" y="-3">103</text><text class="t sc" x="745" y="61">200</text><text class="t cu" x="745" y="70">101646</text><use href="#pP" x="505"/></g>
<g id="m104"><text class="t tp" x="745" y="-15">♩=175.5</text><text class="t mn" x="745" y="-3">104</text><text class="t sc" x="985" y="61">200</text><text class="t cu" x="985" y="70">102446</text><use href="#pP" x="745"/></g>
</g>

<g id="row27" transform="translate(0,3480)">
<use href="#grid4"/><use href="#ticks4"/>
<g id="m105"><text class="t tp" x="25" y="-15">♩=174.9</text><text class="t mn" x="25" y="-3">105</text><text class="t sc" x="265" y="61">200</text><text class="t cu" x="265" y="70">103246</text><use href="#pQ" x="25"/></g>
<g id="m106"><text class="t tp" x="265" y="-15">♩=173.3</text><text class="t mn" x="265" y="-3">106</text><text class="t sc" x="505" y="61">200</text><text class="t cu" x="505" y="70">104046</text><use href="#pS" x="265"/></g>
<g id="m107"><text class="t tp" x="505" y="-15">♩=175</text><text class="t mn" x="505" y="-3">107</text><text class="t sc" x="745" y="61">200</text><text class="t cu" x="745" y="70">104846</text><use href="#pT" x="505"/></g>
<g id="m108"><text class="t tp" x="745" y="-15">♩=173.3</text><text class="t mn" x="745" y="-3">108</text><text class="t sc" x="985" y="61">200</text><text class="t cu" x="985" y="70">105646</text><use href="#pP" x="745"/></g>
</g>

<g id="row28" transform="translate(0,3610)">
<rect class="sp" x="505" y="-5" width="240" height="59"/>
<use href="#grid4"/><use href="#ticks4"/>
<g id="m109"><text class="t tp" x="25" y="-15">♩=173.8</text><text class="t mn" x="25" y="-3">109</text><text class="t sc" x="265" y="61">200</text><text class="t cu" x="265" y="70">106446</text><use href="#pP" x="25"/></g>
<g id="m110"><text class="t tp" x="265" y="-15">♩=172.8</text><text class="t mn" x="265" y="-3">110</text><text class="t sc" x="505" y="61">200</text><text class="t cu" x="505" y="70">107246</text><use href="#pP" x="265"/></g>
<g id="m111"><text class="t tp" x="505" y="-15">♩=173.3</text><text class="t mn" x="505" y="-3">111</text><text class="t sc" x="745" y="61">200</text><text class="t cu" x="745" y="70">108046</text><use href="#pPs" x="505"/></g>
<g id="m112"><text class="t tp" x="745" y="-15">♩=172.3</text><text class="t mn" x="745" y="-3">112</text><text class="t sc" x="985" y="61">200</text><text class="t cu" x="985" y="70">108846</text><use href="#pP" x="745"/></g>
</g>

<g id="row29" transform="translate(0,3740)">
<use href="#grid4"/><use href="#ticks4"/>
<g id="m113"><text class="t tp" x="25" y="-15">♩=172.6</text><text class="t mn" x="25" y="-3">113</text><text class="t sc" x="265" y="61">200</text><text class="t cu" x="265" y="70">109646</text><use href="#pQ" x="25"/></g>
<g id="m114"><text class="t tp" x="265" y="-15">♩=173.1</text><text class="t mn" x="265" y="-3">114</text><text class="t sc" x="505" y="61">200</text><text class="t cu" x="505" y="70">110446</text><use href="#pS" x="265"/></g>
<g id="m115"><text class="t tp" x="505" y="-15">♩=178.8</text><text class="t mn" x="505" y="-3">115</text><text class="t sc" x="745" y="61">200</text><text class="t cu" x="745" y="70">111246</text><use href="#pT" x="505"/></g>
<g id="m116"><text class="t tp" x="745" y="-15">♩=173.7</text><text class="t mn" x="745" y="-3">116</text><text class="t lb" x="805" y="-3">chorus_3</text><text class="t sc" x="985" y="61">400</text><text class="t cu" x="985" y="70">112846</text><use href="#pH" x="745"/></g>
</g>

<g id="row30" transform="translate(0,3870)">
<rect class="sp" x="745" y="-5" width="120" height="59"/>
<use href="#grid4"/><use href="#ticks4"/>
<g id="m117"><text class="t tp" x="25" y="-15">♩=171.1</text><text class="t mn" x="25" y="-3">117</text><text class="t sc" x="265" y="61">400</text><text class="t cu" x="265" y="70">114446</text><use href="#pI" x="25"/></g>
<g id="m118"><text class="t tp" x="265" y="-15">♩=173.1</text><text class="t mn" x="265" y="-3">118</text><text class="t sc" x="505" y="61">400</text><text class="t cu" x="505" y="70">116046</text><use href="#pJ" x="265"/></g>
<g id="m119"><text class="t tp" x="505" y="-15">♩=175.2</text><text class="t mn" x="505" y="-3">119</text><text class="t sc" x="745" y="61">400</text><text class="t cu" x="745" y="70">117646</text><use href="#pJ" x="505"/></g>
<g id="m120"><text class="t tp" x="745" y="-15">♩=173.4</text><text class="t mn" x="745" y="-3">120</text><text class="t sc" x="985" y="61">200</text><text class="t cu" x="985" y="70">118446</text><use href="#p120" x="745"/></g>
</g>

<g id="row31" transform="translate(0,4000)">
<use href="#grid4"/><use href="#ticks4"/>
<g id="m121"><text class="t tp" x="25" y="-15">♩=175.2</text><text class="t mn" x="25" y="-3">121</text><text class="t sc" x="265" y="61">400</text><text class="t cu" x="265" y="70">120046</text><use href="#pK" x="25"/></g>
<g id="m122"><text class="t tp" x="265" y="-15">♩=174</text><text class="t mn" x="265" y="-3">122</text><text class="t sc" x="505" y="61">400</text><text class="t cu" x="505" y="70">121646</text><use href="#pL" x="265"/></g>
<g id="m123"><text class="t tp" x="505" y="-15">♩=176.6</text><text class="t mn" x="505" y="-3">123</text><text class="t sc" x="745" y="61">400</text><text class="t cu" x="745" y="70">123246</text><use href="#pM" x="505"/></g>
<g id="m124"><text class="t tp" x="745" y="-15">♩=171.5</text><text class="t mn" x="745" y="-3">124</text><text class="t sc" x="985" y="61">400</text><text class="t cu" x="985" y="70">124846</text><use href="#pH" x="745"/></g>
</g>

<g id="row32" transform="translate(0,4130)">
<use href="#grid4"/><use href="#ticks4"/>
<g id="m125"><text class="t tp" x="25" y="-15">♩=172.8</text><text class="t mn" x="25" y="-3">125</text><text class="t sc" x="265" y="61">400</text><text class="t cu" x="265" y="70">126446</text><use href="#pI" x="25"/></g>
<g id="m126"><text class="t tp" x="265" y="-15">♩=175.5</text><text class="t mn" x="265" y="-3">126</text><text class="t sc" x="505" y="61">400</text><text class="t cu" x="505" y="70">128046</text><use href="#pJ" x="265"/></g>
<g id="m127"><text class="t tp" x="505" y="-15">♩=174.9</text><text class="t mn" x="505" y="-3">127</text><text class="t sc" x="745" y="61">400</text><text class="t cu" x="745" y="70">129646</text><use href="#pJ" x="505"/></g>
<g id="m128"><text class="t tp" x="745" y="-15">♩=173.3</text><text class="t mn" x="745" y="-3">128</text><text class="t sc" x="985" y="61">400</text><text class="t cu" x="985" y="70">131246</text><use href="#pH" x="745"/></g>
</g>

<g id="row33" transform="translate(0,4260)">
<use href="#grid4"/><use href="#ticks4"/>
<g id="m129"><text class="t tp" x="25" y="-15">♩=172.3</text><text class="t mn" x="25" y="-3">129</text><text class="t sc" x="265" y="61">400</text><text class="t cu" x="265" y="70">132846</text><use href="#pK" x="25"/></g>
<g id="m130"><text class="t tp" x="265" y="-15">♩=172</text><text class="t mn" x="265" y="-3">130</text><text class="t sc" x="505" y="61">400</text><text class="t cu" x="505" y="70">134446</text><use href="#pL" x="265"/></g>
<g id="m131"><text class="t tp" x="505" y="-15">♩=179.3</text><text class="t mn" x="505" y="-3">131</text><text class="t sc" x="745" y="61">400</text><text class="t cu" x="745" y="70">136046</text><use href="#pM" x="505"/></g>
<g id="m132"><text class="t tp" x="745" y="-15">♩=174</text><text class="t mn" x="745" y="-3">132</text><text class="t lb" x="805" y="-3">outro</text><text class="t sc" x="985" y="61">247</text><text class="t cu" x="985" y="70">137042</text><use href="#pOut" x="745"/></g>
</g>

<g id="row34" transform="translate(0,4390)">
<use href="#grid4"/><use href="#ticks4"/>
<g id="m133"><text class="t mn" x="25" y="-3">133</text><text class="t sc" x="265" y="61">300</text><text class="t cu" x="265" y="70">138242</text><use href="#pA" x="25"/></g>
<g id="m134"><text class="t mn" x="265" y="-3">134</text><text class="t sc" x="505" y="61">222</text><text class="t cu" x="505" y="70">139138</text><use href="#pGY4" x="265"/></g>
<g id="m135"><text class="t mn" x="505" y="-3">135</text><text class="t sc" x="745" y="61">300</text><text class="t cu" x="745" y="70">140338</text><use href="#pC" x="505"/></g>
<g id="m136"><text class="t mn" x="745" y="-3">136</text><text class="t sc" x="985" y="61">222</text><text class="t cu" x="985" y="70">141234</text><use href="#pOut" x="745"/></g>
</g>

<g id="row35" transform="translate(0,4520)">
<use href="#grid4"/><use href="#ticks4"/>
<g id="m137"><text class="t mn" x="25" y="-3">137</text><text class="t sc" x="265" y="61">300</text><text class="t cu" x="265" y="70">142434</text><use href="#pA" x="25"/></g>
<g id="m138"><text class="t tp" x="265" y="-15">♩=168.5</text><text class="t tp" x="385" y="-15">♩=165</text><text class="t mn" x="265" y="-3">138</text><text class="t sc" x="505" y="61">234</text><text class="t cu" x="505" y="70">143370</text>
<rect class="cg" x="265" y="-1" width="82.5" height="3"/><rect class="cb" x="265" y="35" width="82.5" height="3"/><use href="#GB" x="265"/>
<rect class="cg" x="355" y="-1" width="82.5" height="3"/><rect class="cy" x="355" y="23" width="82.5" height="3"/><use href="#GY" x="355"/>
<rect class="cg" x="445" y="-1" width="52.5" height="3"/><rect class="co" x="445" y="47" width="52.5" height="3"/><use href="#GO" x="445"/>
</g>
<g id="m139"><text class="t mn" x="505" y="-3">139</text><text class="t sc" x="745" y="61">144</text><text class="t cu" x="745" y="70">143954</text>
<rect class="cg" x="505" y="-1" width="481" height="3"/><rect class="cr" x="505" y="11" width="481" height="3"/><use href="#GR" x="505"/></g>
<g id="m140"><text class="t mn" x="745" y="-3">140</text><text class="t sc" x="985" y="61">96</text><text class="t cu" x="985" y="70">144338</text></g>
</g>

<g id="row36" transform="translate(0,4650)">
<use href="#grid3"/><use href="#ticks3"/>
<rect class="cg" x="25" y="-1" width="721" height="3"/><rect class="cr" x="25" y="11" width="721" height="3"/>
<g id="m141"><text class="t mn" x="25" y="-3">141</text><text class="t sc" x="265" y="61">96</text><text class="t cu" x="265" y="70">144722</text></g>
<g id="m142"><text class="t mn" x="265" y="-3">142</text><text class="t sc" x="505" y="61">96</text><text class="t cu" x="505" y="70">145106</text></g>
<g id="m143"><text class="t mn" x="505" y="-3">143</text><text class="t sc" x="745" y="61">96</text><text class="t cu" x="745" y="70">145490</text></g>
</g>

<g id="footer">
<text class="ft" x="0" y="4780">http://charts.ajanata.com/rb/</text>
<text class="ft wr" x="0" y="4793">WARNING: Work in progress. This information has NOT BEEN VERIFIED and MAY BE INCORRECT.</text>
<text class="ft gr" x="689" y="4780">Generated at Fri, 26 Aug 2011 08:06:11 -0400.</text>
<text class="ft gr" x="689" y="4793">Generated by ajanata's Chart Generator, r299.</text>
</g>
</svg>
